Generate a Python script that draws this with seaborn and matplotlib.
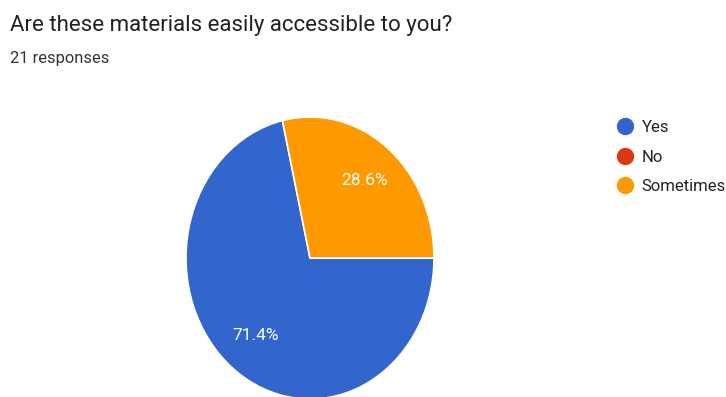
import matplotlib
matplotlib.use("Agg")
import matplotlib.pyplot as plt
from matplotlib.lines import Line2D
import seaborn as sns

# Survey results
categories = ["Yes", "No", "Sometimes"]
counts = [15, 0, 6]
colors = ["#3366cc", "#dc3912", "#ff9900"]
title = "Are these materials easily accessible to you?"
subtitle = "21 responses"

sns.set_theme(style="white")
plt.rcParams["font.family"] = ["Roboto", "DejaVu Sans"]

W, H = 726, 397
fig = plt.figure(figsize=(W / 100, H / 100), dpi=100)
fig.patch.set_facecolor("white")

# Pie occupies an elliptical region (stretched vertically)
left, right, top, bottom = 186, 434, 117, 399
ax = fig.add_axes([left / W, (H - bottom) / H, (right - left) / W, (bottom - top) / H])

total = sum(counts)
start = 360 * counts[2] / total  # Yes runs counter-clockwise ending at 3 o'clock

wedges, texts, autotexts = ax.pie(
    counts,
    colors=colors,
    startangle=start,
    counterclock=True,
    autopct=lambda p: f"{p:.1f}%" if p > 0 else "",
    pctdistance=0.7,
    wedgeprops=dict(edgecolor="white", linewidth=1.2),
    textprops=dict(color="white", fontsize=12.5),
)
ax.set_aspect("auto")
ax.set_xlim(-1, 1)
ax.set_ylim(-1, 1)
ax.axis("off")

fig.text(10 / W, 1 - 31 / H, title, fontsize=16.0, color="#212121", ha="left", va="baseline")
fig.text(10 / W, 1 - 63 / H, subtitle, fontsize=11.9, color="#333333", ha="left", va="baseline")

handles = [
    Line2D([], [], marker="o", linestyle="", markersize=11.5,
           markerfacecolor=c, markeredgecolor=c)
    for c in colors
]
fig.legend(
    handles, categories,
    loc="upper left",
    bbox_to_anchor=(615 / W, 1 - 120 / H),
    frameon=False,
    fontsize=12,
    handletextpad=0.4,
    labelspacing=0.88,
    handlelength=1.2,
    borderaxespad=0,
    borderpad=0,
    labelcolor="#222222",
)

fig.savefig("out.png", dpi=100, facecolor="white")
